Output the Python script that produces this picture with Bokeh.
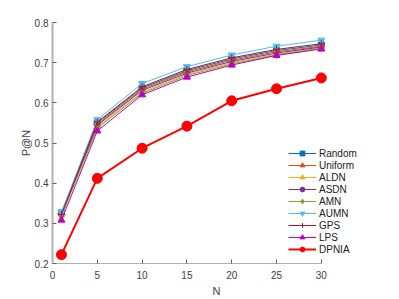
import math
from bokeh.plotting import figure
from bokeh.models import Range1d, FixedTicker, Legend
from bokeh.embed import file_html
from bokeh.resources import INLINE

N = [1, 5, 10, 15, 20, 25, 30]
random_v  = [0.326, 0.550, 0.637, 0.680, 0.709, 0.730, 0.744]
uniform_v = [0.324, 0.547, 0.634, 0.677, 0.706, 0.727, 0.741]
aldn_v    = [0.318, 0.540, 0.627, 0.671, 0.700, 0.721, 0.737]
asdn_v    = [0.320, 0.544, 0.631, 0.674, 0.703, 0.724, 0.739]
amn_v     = [0.320, 0.537, 0.624, 0.668, 0.697, 0.719, 0.736]
aumn_v    = [0.328, 0.558, 0.648, 0.690, 0.719, 0.741, 0.756]
gps_v     = [0.322, 0.552, 0.640, 0.683, 0.712, 0.733, 0.747]
lps_v     = [0.308, 0.530, 0.620, 0.664, 0.694, 0.718, 0.734]
dpnia_v   = [0.222, 0.412, 0.487, 0.542, 0.605, 0.635, 0.662]

x_ticks = [0, 5, 10, 15, 20, 25, 30]
y_ticks = [0.2, 0.3, 0.4, 0.5, 0.6, 0.7, 0.8]
X_MIN, X_MAX = 0, 30

series = [
    ("Random", random_v, "#0072BD", "square", 0, 6, 1),
    ("Uniform", uniform_v, "#D95319", "triangle", math.pi / 2, 7, 1),
    ("ALDN", aldn_v, "#EDB120", "triangle", -math.pi / 2, 7, 1),
    ("ASDN", asdn_v, "#7E2F8E", "circle", 0, 4, 1),
    ("AMN", amn_v, "#77AC30", "diamond", 0, 7, 1),
    ("AUMN", aumn_v, "#4DBEEE", "inverted_triangle", 0, 7, 1),
    ("GPS", gps_v, "#A2142F", "cross", 0, 7, 1),
    ("LPS", lps_v, "#BF00BF", "triangle", 0, 7, 1),
    ("DPNIA", dpnia_v, "#FF0000", "circle", 0, 10, 2),
]

# frame extends past x=30 so the legend (which overhangs the axis in the
# reference) is not clipped; the visible axis stops at 30
p = figure(width=399, height=299, output_backend="svg", toolbar_location=None,
           x_range=Range1d(X_MIN, 36.6), y_range=Range1d(0.2, 0.8),
           min_border_left=52, min_border_right=19, min_border_top=22,
           min_border_bottom=34)
p.outline_line_color = None
p.xgrid.visible = False
p.ygrid.visible = False
p.background_fill_color = "white"

p.xaxis.ticker = FixedTicker(ticks=x_ticks)
p.yaxis.ticker = FixedTicker(ticks=y_ticks)
p.xaxis.major_label_overrides = {t: str(t) for t in x_ticks}
p.yaxis.major_label_overrides = {t: "%.1f" % t for t in y_ticks}
p.xaxis.axis_label = "N"
p.yaxis.axis_label = "P@N"

for ax in (p.xaxis, p.yaxis):
    ax.major_tick_in = 4
    ax.major_tick_out = 0
    ax.minor_tick_in = 0
    ax.minor_tick_out = 0
    ax.major_label_text_font = "Liberation Sans"
    ax.major_label_text_font_size = "10px"
    ax.major_label_text_color = "#404040"
    ax.axis_label_text_font = "Liberation Sans"
    ax.axis_label_text_font_size = "11px"
    ax.axis_label_text_font_style = "normal"
    ax.axis_label_text_color = "#404040"
p.xaxis.axis_label_standoff = 3
p.yaxis.axis_label_standoff = 0
p.xaxis.major_label_standoff = 7
p.yaxis.major_label_standoff = 4
p.xaxis.axis_line_color = None
p.xaxis.major_tick_line_color = "#606060"
p.yaxis.axis_line_color = "#b0b0b0"
p.yaxis.axis_line_width = 2
p.yaxis.major_tick_line_color = "#606060"

# visible x-axis line from 0 to 30
p.line([X_MIN, X_MAX], [0.2, 0.2], line_color="#606060", line_width=1)

items = []
for name, vals, color, marker, ang, size, lw in series:
    r1 = p.line(N, vals, line_color=color, line_width=lw)
    r2 = p.scatter(N, vals, marker=marker, angle=ang, size=size,
                   fill_color=color, line_color=color, line_width=1)
    items.append((name, [r1, r2]))

legend = Legend(items=items, location=(236, 8))
legend.border_line_alpha = 0
legend.background_fill_alpha = 0
legend.label_text_font = "Liberation Sans"
legend.label_text_font_size = "10px"
legend.label_text_color = "#202020"
legend.spacing = 0
legend.padding = 0
legend.margin = 0
legend.label_height = 12
legend.glyph_height = 12
legend.glyph_width = 28
legend.label_standoff = 3
p.add_layout(legend, "center")

open("out.html", "w").write(file_html(p, INLINE))
